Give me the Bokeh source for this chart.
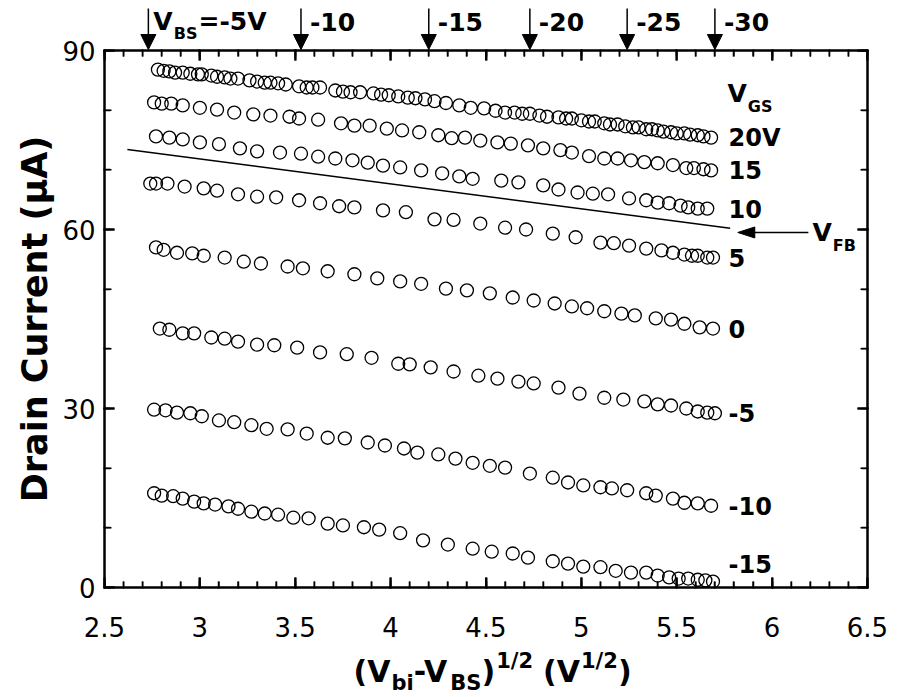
from bokeh.plotting import figure
from bokeh.layouts import column
from bokeh.models import (Range1d, LinearAxis, SingleIntervalTicker, Label, Arrow, NormalHead)
from bokeh.embed import file_html
from bokeh.resources import INLINE

# ---------------- data ----------------
vgs_labels = ["20V", "15", "10", "5", "0", "-5", "-10", "-15"]

x_20 = [2.78, 2.81, 2.84, 2.87, 2.91, 2.95, 2.99, 3.01, 3.06, 3.09, 3.13, 3.16, 3.20, 3.26, 3.30,
        3.34, 3.37, 3.41, 3.45, 3.52, 3.56, 3.59, 3.63, 3.71, 3.75, 3.79, 3.84, 3.91, 3.95, 3.99,
        4.04, 4.09, 4.13, 4.18, 4.23, 4.29, 4.36, 4.42, 4.49, 4.55, 4.60, 4.65, 4.69, 4.73, 4.78,
        4.82, 4.88, 4.92, 4.95, 5.00, 5.04, 5.07, 5.12, 5.15, 5.19, 5.23, 5.27, 5.30, 5.34, 5.37,
        5.40, 5.43, 5.47, 5.50, 5.54, 5.57, 5.61, 5.64, 5.68]
y_20 = [86.8, 86.6, 86.5, 86.3, 86.3, 86.1, 86.0, 86.0, 85.8, 85.6, 85.5, 85.3, 85.3, 85.0, 84.8,
        84.6, 84.6, 84.5, 84.3, 84.0, 83.8, 83.8, 83.8, 83.3, 83.1, 83.0, 83.0, 82.8, 82.6, 82.5,
        82.3, 82.1, 82.0, 81.8, 81.5, 81.2, 80.8, 80.4, 80.3, 79.9, 79.6, 79.6, 79.4, 79.4, 79.1,
        78.9, 78.8, 78.6, 78.6, 78.3, 78.1, 78.1, 77.8, 77.6, 77.6, 77.3, 77.1, 77.1, 76.8, 76.8,
        76.6, 76.4, 76.3, 76.1, 76.1, 75.9, 75.8, 75.6, 75.4]

x_15 = [2.76, 2.80, 2.85, 2.91, 3.00, 3.09, 3.18, 3.28, 3.37, 3.47, 3.52, 3.62, 3.74, 3.81, 3.89,
        3.98, 4.06, 4.15, 4.25, 4.32, 4.39, 4.47, 4.56, 4.63, 4.72, 4.80, 4.89, 4.95, 5.04, 5.12,
        5.19, 5.26, 5.33, 5.40, 5.48, 5.55, 5.59, 5.64, 5.68]
y_15 = [81.3, 81.1, 81.1, 80.8, 80.4, 80.1, 79.6, 79.3, 79.1, 78.9, 78.6, 78.4, 77.8, 77.4, 77.4,
        76.9, 76.6, 76.3, 75.8, 75.3, 75.4, 74.9, 74.6, 74.4, 74.1, 73.6, 73.3, 72.9, 72.3, 71.9,
        71.9, 71.6, 71.3, 71.1, 70.8, 70.3, 70.3, 70.1, 69.9]

x_10 = [2.77, 2.84, 2.91, 3.00, 3.10, 3.21, 3.30, 3.42, 3.53, 3.62, 3.71, 3.80, 3.88, 3.96, 4.05,
        4.16, 4.27, 4.36, 4.43, 4.58, 4.67, 4.80, 4.88, 4.98, 5.06, 5.14, 5.25, 5.34, 5.40, 5.46,
        5.52, 5.56, 5.61, 5.66]
y_10 = [75.6, 75.4, 75.1, 74.6, 74.3, 73.6, 73.1, 72.9, 72.7, 72.2, 71.9, 71.6, 71.2, 70.7, 70.4,
        69.9, 69.4, 68.9, 68.5, 68.2, 67.9, 67.4, 66.7, 66.2, 66.0, 65.9, 65.2, 64.9, 64.5, 64.4,
        64.0, 63.7, 63.5, 63.5]

x_5 = [2.74, 2.77, 2.83, 2.92, 3.02, 3.09, 3.20, 3.30, 3.40, 3.52, 3.63, 3.73, 3.81, 3.96, 4.08,
       4.23, 4.33, 4.47, 4.60, 4.71, 4.85, 4.97, 5.10, 5.17, 5.25, 5.34, 5.42, 5.48, 5.54, 5.58,
       5.61, 5.66, 5.69]
y_5 = [67.7, 67.7, 67.7, 67.2, 66.9, 66.5, 65.9, 65.5, 65.4, 64.9, 64.4, 63.9, 63.7, 63.2, 62.9,
       61.7, 61.6, 61.0, 60.3, 60.0, 59.3, 58.7, 57.8, 57.7, 57.3, 56.8, 56.5, 56.1, 55.8, 55.6,
       55.6, 55.3, 55.3]

x_0 = [2.77, 2.81, 2.88, 2.96, 3.02, 3.13, 3.23, 3.32, 3.46, 3.54, 3.67, 3.81, 3.93, 4.05, 4.16,
       4.29, 4.40, 4.52, 4.64, 4.75, 4.86, 4.95, 5.03, 5.12, 5.21, 5.28, 5.39, 5.47, 5.54, 5.62,
       5.69]
y_0 = [57.0, 56.6, 56.1, 56.0, 55.6, 55.3, 54.6, 54.3, 53.8, 53.5, 53.0, 52.5, 51.8, 51.3, 50.9,
       50.1, 49.8, 49.3, 48.6, 48.1, 47.6, 47.1, 46.8, 46.3, 45.9, 45.6, 45.1, 44.9, 44.2, 43.6,
       43.4]

x_m5 = [2.79, 2.84, 2.91, 2.97, 3.06, 3.13, 3.20, 3.30, 3.39, 3.51, 3.63, 3.77, 3.90, 4.04, 4.10,
        4.21, 4.33, 4.46, 4.56, 4.67, 4.75, 4.88, 4.99, 5.12, 5.22, 5.33, 5.40, 5.47, 5.55, 5.61,
        5.66, 5.70]
y_m5 = [43.4, 43.2, 42.6, 42.6, 41.9, 41.7, 41.2, 40.7, 40.6, 40.2, 39.4, 39.1, 38.5, 37.5, 37.4,
        36.9, 36.2, 35.5, 35.0, 34.5, 34.2, 33.5, 32.5, 31.8, 31.5, 31.2, 30.7, 30.5, 30.0, 29.5,
        29.3, 29.2]

x_m10 = [2.76, 2.82, 2.88, 2.95, 3.01, 3.10, 3.18, 3.27, 3.35, 3.46, 3.56, 3.67, 3.76, 3.88, 3.97,
         4.07, 4.14, 4.25, 4.34, 4.43, 4.52, 4.60, 4.73, 4.85, 4.93, 5.01, 5.10, 5.16, 5.24, 5.34,
         5.39, 5.48, 5.54, 5.61, 5.68]
y_m10 = [29.8, 29.7, 29.3, 29.2, 28.7, 28.0, 27.7, 27.2, 26.6, 26.5, 25.8, 25.1, 25.0, 24.3, 23.8,
         23.3, 22.6, 22.3, 21.6, 20.9, 20.4, 20.1, 19.1, 18.4, 17.6, 17.1, 16.8, 16.6, 16.3, 15.8,
         15.4, 14.9, 14.2, 14.1, 13.7]

x_m15 = [2.76, 2.80, 2.86, 2.91, 2.97, 3.02, 3.08, 3.15, 3.20, 3.27, 3.34, 3.41, 3.49, 3.57, 3.67,
         3.75, 3.86, 3.94, 4.05, 4.17, 4.30, 4.43, 4.53, 4.64, 4.72, 4.85, 4.93, 5.01, 5.10, 5.18,
         5.26, 5.34, 5.40, 5.46, 5.51, 5.56, 5.61, 5.65, 5.69]
y_m15 = [15.8, 15.4, 15.3, 14.9, 14.4, 14.1, 13.9, 13.6, 13.2, 12.7, 12.4, 12.2, 11.7, 11.6, 10.7,
         10.4, 10.1, 9.7, 9.1, 7.9, 7.2, 6.5, 6.0, 5.7, 5.0, 4.4, 4.0, 3.5, 3.4, 2.8,
         2.5, 2.5, 2.0, 1.7, 1.5, 1.5, 1.3, 1.2, 1.0]

series_x = [x_20, x_15, x_10, x_5, x_0, x_m5, x_m10, x_m15]
series_y = [y_20, y_15, y_10, y_5, y_0, y_m5, y_m10, y_m15]

vbs_labels = ["-5V", "-10", "-15", "-20", "-25", "-30"]
vbs_x = [2.73, 3.53, 4.20, 4.73, 5.24, 5.70]

vfb_x = [2.62, 5.78]
vfb_y = [73.4, 60.2]
vfb_arrow_x = [6.19, 5.82]
vfb_arrow_y = 59.5

x_tick_labels = {3: "3", 4: "4", 5: "5", 6: "6"}

# ---------------- layout ----------------
W = 901
L, R = 104, 34
TOP_H = 50            # strip above the plot (arrows + V_BS labels)
MAIN_T, MAIN_B = 16, 60
OVERLAP = MAIN_T      # main plot's top border overlaps the strip (transparent)
FH = 537              # frame height
MAIN_H = MAIN_T + FH + MAIN_B
BOT_H = 697 - (TOP_H - OVERLAP) - MAIN_H
FW = W - L - R
X0, X1, Y0, Y1 = 2.5, 6.5, 0, 90
FRAME_TOP = TOP_H                   # canvas y of the frame top
FONT = "DejaVu Sans"

# tick positions (axis layout)
X_MAJOR = [X0 + 0.5 * i for i in range(9)]
X_MINOR = [X0 + 0.1 * i for i in range(41) if i % 5]
Y_MAJOR = [0, 30, 60, 90]
Y_MINOR = [10, 20, 40, 50, 70, 80]

xr = Range1d(X0, X1)


def px2x(px):
    return X0 + (px - L) * (X1 - X0) / FW


def py2y(py):
    return Y0 + (FRAME_TOP + FH - py) * (Y1 - Y0) / FH


def x2px(x):
    return L + (x - X0) * FW / (X1 - X0)


WB = {' ': 0.348, '(': 0.457, ')': 0.457, '-': 0.415, '/': 0.365, '=': 0.838, 'B': 0.762,
      'F': 0.683, 'G': 0.821, 'S': 0.720, 'V': 0.774, 'b': 0.716, 'i': 0.343}


def tw(s, size):
    return sum(WB.get(c, 0.696) for c in s) * size


def strip(height):
    f = figure(width=W, height=height, x_range=xr, y_range=Range1d(height, 0),
               output_backend="svg", toolbar_location=None, x_axis_type=None,
               y_axis_type=None, min_border_left=L, min_border_right=R,
               min_border_top=0, min_border_bottom=0)
    f.outline_line_color = None
    f.background_fill_color = "white"
    f.border_fill_color = "white"
    return f


def pieces(fig, parts, x_px, y_px, ymap):
    for txt, size, dy, gap in parts:
        x_px += gap
        fig.add_layout(Label(x=px2x(x_px), y=ymap(y_px + dy), text=txt, text_font=FONT,
                             text_font_style="bold", text_font_size=f"{size}px",
                             text_baseline="middle", text_align="left",
                             text_color="black"))
        x_px += tw(txt, size)


# ---------------- main plot ----------------
p = figure(width=W, height=MAIN_H, x_range=xr, y_range=Range1d(Y0, Y1),
           output_backend="svg", toolbar_location=None,
           min_border_left=L, min_border_right=R, min_border_top=MAIN_T,
           min_border_bottom=MAIN_B)
p.margin = (-OVERLAP, 0, 0, 0)
p.outline_line_color = "black"
p.outline_line_width = 2
p.background_fill_color = "white"
p.border_fill_color = None
p.xgrid.visible = False
p.ygrid.visible = False


def style_axis(ax, interval, minors):
    ax.ticker = SingleIntervalTicker(interval=interval, num_minor_ticks=minors)
    ax.axis_line_width = 2
    ax.major_tick_in = 10
    ax.major_tick_out = 1
    ax.minor_tick_in = 6
    ax.minor_tick_out = 1
    ax.major_tick_line_width = 2
    ax.minor_tick_line_width = 1.5
    ax.major_label_text_font = FONT
    ax.major_label_text_font_size = "26px"
    ax.major_label_text_color = "black"


xb = p.below[0]
style_axis(xb, 0.5, 5)
xb.major_label_overrides = x_tick_labels
xb.major_label_standoff = 28

yl = p.left[0]
style_axis(yl, 30, 3)
yl.major_label_standoff = 8
yl.axis_label = "Drain Current (\u03bcA)"
yl.axis_label_text_font = FONT
yl.axis_label_text_font_style = "bold"
yl.axis_label_text_font_size = "35px"
yl.axis_label_text_color = "black"
yl.axis_label_standoff = 4

xt = LinearAxis()
style_axis(xt, 0.5, 5)
xt.major_label_overrides = {v / 2: "" for v in range(4, 14)}
xt.major_label_text_font_size = "1px"
xt.major_label_standoff = 0
p.add_layout(xt, "above")

yr = LinearAxis()
style_axis(yr, 30, 3)
yr.major_label_overrides = {v: "" for v in (0, 30, 60, 90)}
yr.major_label_text_font_size = "1px"
yr.major_label_standoff = 0
p.add_layout(yr, "right")

# inward tick marks on all four sides of the frame (drawn through the scales)
dxu = (X1 - X0) / FW      # data units per pixel, x
dyu = (Y1 - Y0) / FH      # data units per pixel, y
for ticks, ln, lw in ((X_MAJOR, 10, 2), (X_MINOR, 6, 1.5)):
    p.segment(x0=ticks, y0=[Y0] * len(ticks), x1=ticks, y1=[Y0 + ln * dyu] * len(ticks),
              line_color="black", line_width=lw)
    p.segment(x0=ticks, y0=[Y1] * len(ticks), x1=ticks, y1=[Y1 - ln * dyu] * len(ticks),
              line_color="black", line_width=lw)
for ticks, ln, lw in ((Y_MAJOR, 10, 2), (Y_MINOR, 7, 1.5)):
    p.segment(x0=[X0] * len(ticks), y0=ticks, x1=[X0 + ln * dxu] * len(ticks), y1=ticks,
              line_color="black", line_width=lw)
    p.segment(x0=[X1] * len(ticks), y0=ticks, x1=[X1 - ln * dxu] * len(ticks), y1=ticks,
              line_color="black", line_width=lw)

# data points
for xs, ys in zip(series_x, series_y):
    p.scatter(xs, ys, marker="circle", size=13, fill_color=None, line_color="black",
              line_width=1.3)

# V_FB line and arrow (drawn with glyphs)
p.line(vfb_x, vfb_y, line_color="black", line_width=1.5)
tip = vfb_arrow_x[1]
dxh = 17 * dxu
dyh = 5.5 * dyu
p.segment(x0=[vfb_arrow_x[0]], y0=[vfb_arrow_y], x1=[tip + dxh * 0.8], y1=[vfb_arrow_y],
          line_color="black", line_width=1.3)
p.patch([tip, tip + dxh, tip + dxh], [vfb_arrow_y, vfb_arrow_y + dyh, vfb_arrow_y - dyh],
        fill_color="black", line_color="black", line_width=1)

# right side V_GS labels
pieces(p, [("V", 25, 0, 0), ("GS", 16, 13, 1)], 727, 93, py2y)
for lab, ys in zip(vgs_labels, series_y):
    off = 3.0 if lab == "-15" else 0.0
    p.add_layout(Label(x=px2x(728), y=ys[-1] + off, text=lab, text_font=FONT,
                       text_font_style="bold", text_font_size="24px", text_color="black",
                       text_baseline="middle", text_align="left"))

# V_FB label
pieces(p, [("V", 25, 0, 0), ("FB", 16, 13, 1)], 812, 232, py2y)

# ---------------- top strip: V_BS arrows ----------------
top = strip(TOP_H)
ident = lambda v: v
for i, (xv, lab) in enumerate(zip(vbs_x, vbs_labels)):
    top.add_layout(Arrow(x_start=xv, y_start=8, x_end=xv, y_end=TOP_H - 1, line_width=1.5,
                         end=NormalHead(size=15, fill_color="black", line_color="black")))
    ax_px = x2px(xv)
    if i == 0:
        pieces(top, [("V", 25, 0, 0), ("BS", 16, 12, 1), ("=" + lab, 25, 0, 1)],
               ax_px + 5, 21, ident)
    else:
        pieces(top, [(lab, 25, 0, 0)], ax_px + 9, 21, ident)

# ---------------- bottom strip: x-axis title ----------------
bot = strip(BOT_H)
off_b = 697 - BOT_H
F, f = 30, 21
pieces(bot, [("(V", F, 0, 0), ("bi", f, 11, 1), ("-V", F, 0, 0), ("BS", f, 11, 1),
             (")", F, 0, 0), ("1/2", f, -11, 1), ("(V", F, 0, 10), ("1/2", f, -11, 1),
             (")", F, 0, 0)], 353, 671 - off_b, ident)

layout = column(top, p, bot, spacing=0)
open("out.html", "w").write(file_html(layout, INLINE))
